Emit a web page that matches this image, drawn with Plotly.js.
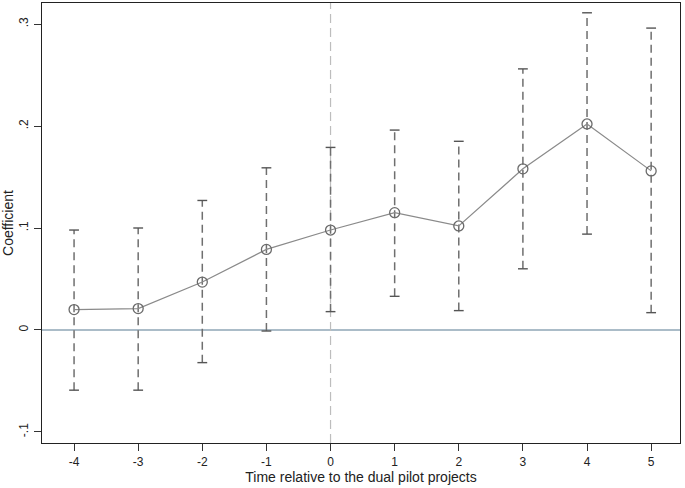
<!DOCTYPE html>
<html>
<head>
<meta charset="utf-8">
<script src="https://cdn.plot.ly/plotly-3.0.1.min.js"></script>
<style>html,body{margin:0;padding:0;background:#fff;}#chart{width:685px;height:488px;}</style>
</head>
<body>
<div id="chart"></div>
<script>
const periods = [-4, -3, -2, -1, 0, 1, 2, 3, 4, 5];
const coef    = [0.020, 0.021, 0.047, 0.079, 0.098, 0.115, 0.102, 0.158, 0.202, 0.156];
const ciLow   = [-0.059, -0.059, -0.032, -0.001, 0.018, 0.033, 0.019, 0.060, 0.094, 0.017];
const ciHigh  = [0.098, 0.100, 0.127, 0.159, 0.179, 0.196, 0.185, 0.256, 0.311, 0.296];
const yTickVals = [-0.1, 0, 0.1, 0.2, 0.3];
const yTickText = ['-.1', '0', '.1', '.2', '.3'];
const xTickVals = periods;
const xTickText = periods.map(String);

const traces = [];
periods.forEach((p, i) => {
  traces.push({
    x: [p, p], y: [ciLow[i], ciHigh[i]], mode: 'lines', type: 'scatter',
    line: {color: '#6f6f6f', width: 1.5, dash: '8px,5px'},
    hoverinfo: 'skip', showlegend: false
  });
});
traces.push({
  x: periods.concat(periods), y: ciLow.concat(ciHigh), mode: 'markers', type: 'scatter',
  marker: {symbol: 'line-ew', size: 7, line: {color: '#555', width: 1.4}},
  hoverinfo: 'skip', showlegend: false
});
traces.push({
  x: periods, y: coef, mode: 'lines+markers', type: 'scatter',
  line: {color: '#8a8a8a', width: 1.2},
  marker: {symbol: 'circle-open', size: 10, color: '#6a6a6a', line: {color: '#6a6a6a', width: 1.3}},
  showlegend: false
});

const layout = {
  width: 685, height: 488,
  margin: {l: 42, r: 5, t: 3, b: 45},
  paper_bgcolor: '#fff', plot_bgcolor: '#fff',
  font: {family: 'Liberation Sans, Arial, sans-serif', size: 12, color: '#222'},
  showlegend: false,
  xaxis: {
    range: [-4.5, 5.45], tickvals: xTickVals, ticktext: xTickText,
    ticks: 'outside', ticklen: 7, tickcolor: '#333', tickwidth: 1,
    showgrid: false, zeroline: false,
    showline: true, mirror: true, linecolor: '#222', linewidth: 1.2,
    tickfont: {size: 12, color: '#222'},
    title: {text: 'Time relative to the dual pilot projects', font: {size: 14, color: '#222'}, standoff: 3}
  },
  yaxis: {
    range: [-0.1108, 0.3206], tickvals: yTickVals, ticktext: yTickText,
    tickangle: -90, ticklabelstandoff: 1,
    ticks: 'outside', ticklen: 7, tickcolor: '#333', tickwidth: 1,
    showgrid: false, zeroline: false,
    showline: true, mirror: true, linecolor: '#222', linewidth: 1.2,
    tickfont: {size: 12, color: '#222'},
    title: {text: 'Coefficient', font: {size: 14, color: '#222'}, standoff: 0}
  },
  shapes: [
    {type: 'line', xref: 'paper', x0: 0, x1: 1, yref: 'y', y0: 0, y1: 0,
     line: {color: '#8fa6b6', width: 1.3}, layer: 'below'},
    {type: 'line', xref: 'x', x0: 0, x1: 0, yref: 'paper', y0: 0, y1: 1,
     line: {color: '#bdbdbd', width: 1.2, dash: '9px,5px'}, layer: 'below'}
  ]
};

Plotly.newPlot('chart', traces, layout, {displayModeBar: false, staticPlot: true});
</script>
</body>
</html>
